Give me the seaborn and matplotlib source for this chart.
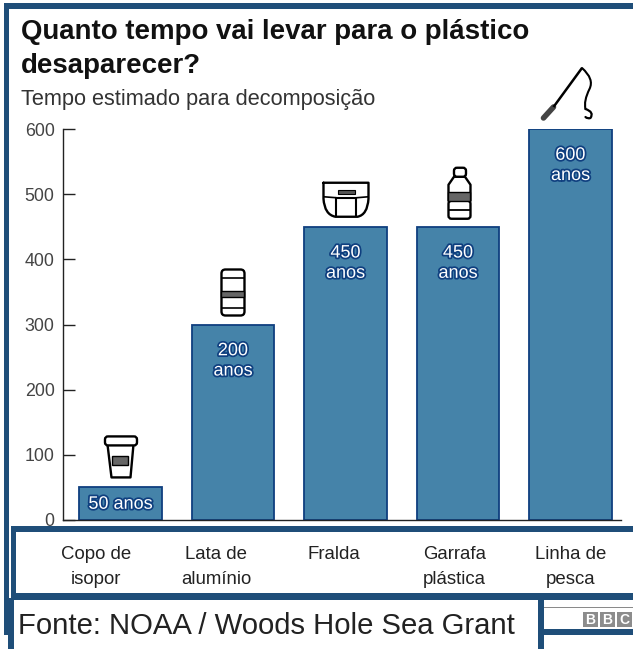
import matplotlib
matplotlib.use("Agg")
import matplotlib.pyplot as plt
import matplotlib.patheffects as pe
from matplotlib.patches import Rectangle, FancyBboxPatch, Polygon, PathPatch
from matplotlib.path import Path
from matplotlib.transforms import Affine2D, ScaledTranslation
import pandas as pd
import seaborn as sns

# ---- data ----
categories = ["Copo de\nisopor", "Lata de\nalumínio", "Fralda", "Garrafa\nplástica", "Linha de\npesca"]
years = [50, 300, 450, 450, 600]  # bar heights as drawn in the picture
value_labels = ["50 anos", "200\nanos", "450\nanos", "450\nanos", "600\nanos"]  # printed text, as in the picture
y_ticks = [0, 100, 200, 300, 400, 500, 600]
title_text = "Quanto tempo vai levar para o plástico\ndesaparecer?"
subtitle_text = "Tempo estimado para decomposição"
source_text = "Fonte: NOAA / Woods Hole Sea Grant"
logo_letters = ["B", "B", "C"]

# ---- style ----
W, H = 633, 649
BAND = "#1f4e79"
BAR = "#4583a9"
EDGE = "#0f3f7f"
INK = "#222222"
LABEL_SHIFT_PX = [-24.5, -16.5, -11.5, -3.5, 0]

sns.set_theme(style="white")
plt.rcParams["font.family"] = ["Liberation Sans", "DejaVu Sans"]

fig = plt.figure(figsize=(W / 100, H / 100), dpi=100, facecolor="white")
ax = fig.add_axes([63 / W, 1 - 520 / H, (621 - 63) / W, (520 - 129) / H])
df = pd.DataFrame({"cat": categories, "years": years})
sns.barplot(data=df, x="cat", y="years", color=BAR, saturation=1, width=0.735,
            edgecolor=EDGE, linewidth=1.3, ax=ax)

ax.set_xlim(-0.511, 4.449)
ax.set_ylim(0, 600)
ax.set_xlabel("")
ax.set_ylabel("")
ax.set_yticks(y_ticks)
ax.tick_params(axis="y", left=True, direction="in", length=8.5, width=1, color=INK, labelsize=12.8,
               labelcolor="#444444", pad=6)
ax.tick_params(axis="x", length=0, labelsize=13.4, labelcolor=INK, pad=19)
for lab, dx in zip(ax.get_xticklabels(), LABEL_SHIFT_PX):
    lab.set_linespacing(1.62)
    lab.set_verticalalignment("top")
    lab.set_transform(lab.get_transform() + Affine2D().translate(dx, 0))
for s in ("top", "right"):
    ax.spines[s].set_visible(False)
for s in ("left", "bottom"):
    ax.spines[s].set_color(INK)
    ax.spines[s].set_linewidth(1)
ax.spines["bottom"].set_bounds(-0.511, 4.449)

# value labels inside the bars
halo = [pe.withStroke(linewidth=2.5, foreground="#0f3f7f")]
for i, (v, lab) in enumerate(zip(years, value_labels)):
    drop = -12.8 if "\n" in lab else -6
    ax.annotate(lab, (i, v), xytext=(0, drop), textcoords="offset points", ha="center", va="top",
                color="white", fontsize=13, linespacing=1.25, path_effects=halo)


def anchor(i):
    """Pixel units (y up) relative to the top centre of bar i."""
    return Affine2D() + ScaledTranslation(i, years[i], ax.transData)


def add(i, patch):
    patch.set_transform(anchor(i))
    patch.set_clip_on(False)
    ax.add_patch(patch)


def outline(xy, closed=True, fc="white", lw=1.7):
    return Polygon(xy, closed=closed, fc=fc, ec="black", lw=lw, joinstyle="round")


def curve(verts, codes, fc="none", lw=1.7):
    return PathPatch(Path(verts, codes), fc=fc, ec="black", lw=lw, capstyle="round", joinstyle="round")


def rbox(x, y, w, h, r, fc="white", lw=1.7):
    return FancyBboxPatch((x + r, y + r), w - 2 * r, h - 2 * r, boxstyle=f"round,pad={r}",
                          fc=fc, ec="black", lw=lw)


# cup
add(0, outline([(-13, 43), (13, 43), (10, 10), (-9, 10)]))
add(0, rbox(-15.5, 42, 32, 9, 3))
add(0, Rectangle((-8, 22), 16, 9, fc="#666666", ec="black", lw=1))

# can
add(1, rbox(-11.5, 9, 23, 46, 4))
add(1, Polygon([(-11, 47), (11, 47)], closed=False, ec="black", lw=1.2))
add(1, Polygon([(-11, 17), (11, 17)], closed=False, ec="black", lw=1.2))
add(1, Rectangle((-11.5, 28), 23, 6, fc="#666666", ec="black", lw=1))

# diaper
M, L, C = Path.MOVETO, Path.LINETO, Path.CURVE3
add(2, curve([(-22, 44), (23, 44), (23, 28), (22, 12), (12, 10), (-10, 10), (-21, 12), (-22, 28), (-22, 44)],
             [M, L, L, C, C, L, C, C, L], fc="white"))
add(2, Polygon([(-9, 10), (-9, 29), (11, 29), (11, 10)], closed=False, fc="none", ec="black", lw=1.5))
add(2, Polygon([(-22, 30), (-9, 29)], closed=False, ec="black", lw=1.2))
add(2, Polygon([(11, 29), (23, 30)], closed=False, ec="black", lw=1.2))
add(2, Rectangle((-7, 33), 17, 3.5, fc="#555555", ec="black", lw=0.8))

# bottle
add(3, rbox(-9.5, 8, 22, 18, 3))
add(3, Polygon([(-9.5, 17), (12.5, 17)], closed=False, ec="black", lw=1.3))
add(3, outline([(-9.5, 26), (-9.5, 42), (-4, 50), (7, 50), (12.5, 42), (12.5, 26)]))
add(3, Rectangle((-9.5, 26), 22, 9, fc="#666666", ec="black", lw=1))
add(3, rbox(-4, 50, 12, 9, 3))

# fishing rod
add(4, Polygon([(-27, 11), (-17, 22)], closed=False, ec="#444444", lw=4, capstyle="round"))
add(4, Polygon([(-17, 22), (11.5, 61)], closed=False, ec="black", lw=1.8))
add(4, curve([(11.5, 61), (24, 50), (19, 40), (13, 28), (15, 20)], [M, C, C, C, C], lw=1.5))
add(4, curve([(15, 20), (24, 17), (20, 11), (17, 10), (15, 12)], [M, C, C, C, C], lw=1.6))

# ---- page furniture, in pixels from the top-left corner ----
page = Affine2D().scale(1, -1).translate(0, H)
def band(x0, y0, x1, y1, color=BAND, zorder=3):
    fig.add_artist(Rectangle((x0, y0), x1 - x0, y1 - y0, fc=color, ec="none", transform=page, zorder=zorder))

band(4, 3, W, 9)
band(4, 3, 9, 635)
band(11, 526, W, 532)
band(11, 526, 16, 600)
band(11, 593, W, 600)
band(8, 598, 14, H)
band(538, 598, 544, H)
band(544, 629, W, 635)
band(544, 606.5, W, 607.5, color="#8a8a8a")

def ptext(x, y, s, **kw):
    fig.text(x, y, s, transform=page, zorder=5, **kw)

ptext(21, 19, title_text, fontsize=19.9, fontweight="bold", color="#111111", va="top", ha="left", linespacing=1.42)
ptext(21, 99.5, subtitle_text, fontsize=15.65, color="#333333", va="center", ha="left")
ptext(18, 626, source_text, fontsize=21.1, color="#222222", va="center", ha="left")

for k, letter in enumerate(logo_letters):
    x0 = 583 + k * 17
    band(x0, 612, x0 + 15, 627, color="#8c8c8c", zorder=4)
    ptext(x0 + 7.5, 619.5, letter, fontsize=10, fontweight="bold", color="white", ha="center", va="center")

fig.savefig("out.png", dpi=100, facecolor="white")
